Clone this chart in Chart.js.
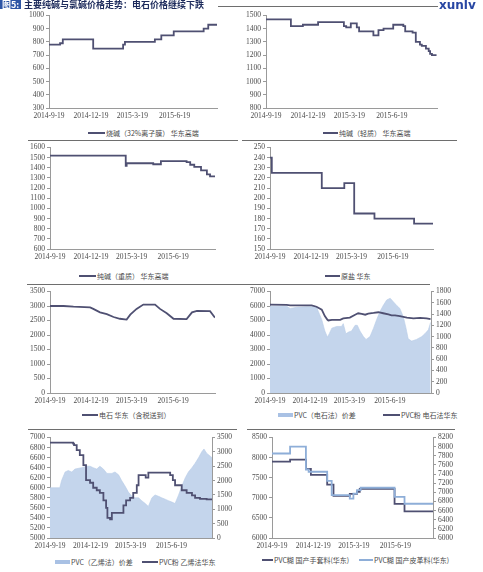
<!DOCTYPE html>
<html lang="zh">
<head>
<meta charset="UTF-8" />
<title>主要纯碱与氯碱价格走势</title>
<script src="https://cdn.jsdelivr.net/npm/chart.js"></script>
<style>
  body { margin: 0; background: #fff; }
  #page { position: relative; width: 483px; height: 572px; overflow: hidden; background: #fff; font-family: "Noto Sans CJK SC", sans-serif; }
  canvas { position: absolute; }
  .sep { position: absolute; height: 0; border-top: 1.5px solid #6e6e6e; }
  .sw { position: absolute; }
  .lt { position: absolute; font-size: 7px; line-height: 9px; color: #4a4a4a; white-space: nowrap; }
  .head { position: absolute; top: 0; white-space: nowrap; font-size: 9px; font-weight: bold; line-height: 9px; z-index: 5; }
</style>
</head>
<body>
<div id="page"></div>
<script>
  // x = 自 2014-9-19 起的天数
  var tickDays = [0, 91, 181, 273];
  var tickLabels = ["2014-9-19", "2014-12-19", "2015-3-19", "2015-6-19"];

  // 烧碱（32%离子膜） 华东高端
  var shaojianDays = [0, 24, 30, 96, 161, 165, 230, 244, 271, 336, 346, 365];
  var shaojianVals = [780, 790, 820, 750, 780, 800, 820, 850, 880, 900, 930, 930];

  // 纯碱（轻质） 华东高端
  var qingzhiDays = [0, 54, 80, 113, 169, 174, 184, 197, 202, 233, 244, 255, 276, 298, 302, 318, 325, 334, 338, 347, 353, 356, 360, 370];
  var qingzhiVals = [1470, 1420, 1430, 1450, 1420, 1410, 1440, 1410, 1380, 1350, 1390, 1400, 1430, 1420, 1380, 1370, 1300, 1280, 1270, 1250, 1230, 1210, 1200, 1200];

  // 纯碱（重质） 华东高端
  var zhongzhiDays = [0, 168, 170, 229, 246, 303, 311, 320, 335, 348, 355, 366];
  var zhongzhiVals = [1520, 1420, 1445, 1435, 1465, 1455, 1430, 1410, 1375, 1335, 1315, 1315];

  // 原盐 华东
  var yuanyanDays = [0, 4, 115, 165, 187, 232, 320, 363];
  var yuanyanVals = [240, 225, 210, 215, 185, 180, 175, 175];

  // 电石 华东（含税送到）
  var dianshiDays = [0, 30, 52, 89, 96, 111, 126, 141, 155, 170, 178, 192, 207, 233, 244, 259, 274, 303, 315, 326, 355, 366];
  var dianshiVals = [3000, 3000, 2975, 2950, 2900, 2780, 2720, 2620, 2560, 2530, 2700, 2900, 3050, 3050, 2900, 2750, 2560, 2550, 2780, 2830, 2820, 2600];

  // PVC（电石法）价差 / PVC粉 电石法华东
  var dsSpreadDays = [0, 38, 46, 61, 84, 106, 110, 118, 125, 131, 135, 141, 152, 163, 167, 173, 179, 186, 194, 199, 205, 213, 219, 228, 236, 243, 251, 258, 266, 274, 281, 289, 296, 304, 310, 315, 323, 334, 346, 353, 361, 366];
  var dsSpreadVals = [1540, 1540, 1500, 1520, 1530, 1530, 1450, 1300, 1100, 990, 1050, 1150, 1180, 1180, 1230, 1050, 1080, 1100, 1200, 1200, 1100, 1000, 950, 1000, 1150, 1300, 1450, 1550, 1650, 1680, 1620, 1550, 1500, 1350, 1150, 960, 920, 950, 1000, 1050, 1120, 1250];
  var dsPvcDays = [0, 38, 46, 84, 95, 106, 118, 125, 131, 133, 141, 160, 167, 182, 194, 201, 209, 217, 224, 236, 247, 258, 270, 277, 285, 296, 312, 327, 342, 357, 366];
  var dsPvcVals = [6100, 6080, 6050, 6050, 6040, 5950, 5750, 5300, 5050, 5000, 5050, 5050, 5150, 5200, 5400, 5500, 5450, 5400, 5480, 5520, 5570, 5500, 5420, 5350, 5350, 5300, 5200, 5150, 5180, 5150, 5100];

  // PVC（乙烯法）价差 / PVC粉 乙烯法华东
  var yxSpreadDays = [0, 22, 26, 34, 41, 49, 56, 71, 83, 90, 97, 105, 112, 120, 128, 139, 146, 154, 161, 169, 176, 184, 191, 199, 206, 214, 221, 229, 236, 244, 251, 259, 266, 274, 281, 289, 296, 304, 311, 319, 326, 334, 341, 346, 352, 360, 364];
  var yxSpreadVals = [1750, 1750, 2000, 2300, 2350, 2300, 2400, 2450, 2500, 2500, 2450, 2400, 2500, 2400, 2250, 2250, 2300, 2200, 2000, 1800, 1600, 1450, 1400, 1400, 1300, 1200, 1100, 1400, 1500, 1450, 1400, 1350, 1300, 1250, 1200, 1500, 1800, 2100, 2300, 2450, 2600, 2800, 3000, 3100, 2950, 2850, 2800];
  var yxPvcDays = [0, 52, 54, 60, 67, 75, 81, 90, 97, 105, 112, 120, 126, 129, 135, 139, 161, 165, 171, 180, 187, 195, 199, 210, 215, 221, 263, 270, 276, 281, 292, 296, 307, 319, 326, 337, 352, 364];
  var yxPvcVals = [6900, 6880, 6850, 6750, 6650, 6450, 6150, 6100, 6000, 5950, 5900, 5750, 5600, 5400, 5370, 5500, 5500, 5650, 5750, 5800, 5900, 6050, 6250, 6250, 6200, 6300, 6300, 6250, 6150, 6050, 6050, 5950, 5900, 5850, 5800, 5780, 5770, 5750];

  // PVC糊 国产手套料(华东) / 国产皮革料(华东)
  var shoutaoDays = [0, 40, 75, 86, 122, 136, 172, 188, 194, 271, 293, 356];
  var shoutaoVals = [7900, 7950, 7720, 7570, 7330, 7050, 7100, 7150, 7220, 6850, 6660, 6660];
  var pigeDays = [0, 40, 75, 81, 122, 132, 172, 180, 188, 196, 271, 293, 356];
  var pigeVals = [7850, 8000, 7500, 7450, 7250, 6940, 6860, 6970, 7050, 7100, 6900, 6750, 6750];

  var DARK = "#4f5072";
  var LIGHT = "#8eaed8";
  var AREA = "#c4d5ec";
  var AXIS = "#9a9a9a";
  var tickFont = { family: '"Liberation Serif", "DejaVu Serif", serif', size: 7.5 };

  var page = document.getElementById("page");

  function pts(days, vals) {
    return days.map(function (d, i) { return { x: d, y: vals[i] }; });
  }

  function lineSet(days, vals, color, axis, stepped, order) {
    return {
      data: pts(days, vals), borderColor: color, borderWidth: 1.8,
      pointRadius: 0, fill: false, stepped: stepped, tension: 0,
      yAxisID: axis, order: order
    };
  }

  function areaSet(days, vals, axis) {
    return {
      data: pts(days, vals), borderColor: "#b9cce8", borderWidth: 0.6,
      backgroundColor: AREA, pointRadius: 0, fill: "origin",
      yAxisID: axis, order: 5
    };
  }

  function yScale(pos, min, max, step, width) {
    return {
      type: "linear", position: pos, min: min, max: max,
      ticks: {
        stepSize: step, autoSkip: false, font: tickFont, color: "#4a4a4a", padding: 2,
        callback: function (v) { return String(v); }
      },
      grid: { display: true, drawOnChartArea: false, drawTicks: true, tickLength: 3, color: AXIS },
      border: { display: true, color: AXIS, width: 1 },
      afterFit: function (s) { s.width = width; }
    };
  }

  // p = [左, 右, 上, 下] 绘图区像素
  function panel(p, xMax, left, right, datasets) {
    var yW = 30, rW = right ? 26 : 0, padT = 6, padR = right ? 2 : 4, xH = 15;
    var c = document.createElement("canvas");
    var w = (p[1] - p[0]) + yW + rW + padR;
    var h = (p[3] - p[2]) + padT + xH;
    c.width = w; c.height = h;
    c.style.left = (p[0] - yW) + "px";
    c.style.top = (p[2] - padT) + "px";
    c.style.width = w + "px"; c.style.height = h + "px";
    page.appendChild(c);

    var scales = {
      x: {
        type: "linear", min: 0, max: xMax,
        afterBuildTicks: function (s) { s.ticks = tickDays.map(function (v) { return { value: v }; }); },
        ticks: {
          autoSkip: false, maxRotation: 0, font: tickFont, color: "#4a4a4a", padding: 4,
          callback: function (v, i) { return tickLabels[i]; }
        },
        grid: { display: false, drawTicks: false },
        border: { display: true, color: AXIS, width: 1 },
        afterFit: function (s) { s.height = xH; }
      },
      y: yScale("left", left[0], left[1], left[2], yW)
    };
    if (right) scales.y2 = yScale("right", right[0], right[1], right[2], rW);

    new Chart(c, {
      type: "line",
      data: { datasets: datasets },
      options: {
        responsive: false, animation: false, devicePixelRatio: 1,
        layout: { padding: { top: padT, right: padR, left: 0, bottom: 0 } },
        plugins: { legend: { display: false }, tooltip: { enabled: false } },
        scales: scales
      }
    });
  }

  function sep(x1, x2, y) {
    var d = document.createElement("div");
    d.className = "sep";
    d.style.left = x1 + "px"; d.style.top = y + "px"; d.style.width = (x2 - x1) + "px";
    page.appendChild(d);
  }

  function legend(x, y, w, color, text, bar) {
    var s = document.createElement("div");
    s.className = "sw";
    var hh = bar ? 3.5 : 2.2;
    s.style.left = x + "px"; s.style.top = (y - hh / 2) + "px";
    s.style.width = w + "px"; s.style.height = hh + "px"; s.style.background = color;
    page.appendChild(s);
    var t = document.createElement("div");
    t.className = "lt";
    t.style.left = (x + w + 1) + "px"; t.style.top = (y - 4.5) + "px";
    t.textContent = text;
    page.appendChild(t);
  }

  function head(x, text, css) {
    var d = document.createElement("div");
    d.className = "head";
    d.style.cssText = "left:" + x + "px;" + css;
    d.textContent = text;
    page.appendChild(d);
  }

  panel([49, 217, 15, 108], 365, [300, 1000, 100], null,
    [lineSet(shaojianDays, shaojianVals, DARK, "y", "before", 0)]);
  panel([266, 437, 15, 108], 371, [800, 1500, 100], null,
    [lineSet(qingzhiDays, qingzhiVals, DARK, "y", "before", 0)]);
  panel([50, 215, 147, 249], 366, [600, 1600, 100], null,
    [lineSet(zhongzhiDays, zhongzhiVals, DARK, "y", "before", 0)]);
  panel([270, 433, 147, 249], 362, [150, 250, 10], null,
    [lineSet(yuanyanDays, yuanyanVals, DARK, "y", "before", 0)]);
  panel([50, 215, 291, 393], 366, [0, 3500, 500], null,
    [lineSet(dianshiDays, dianshiVals, DARK, "y", false, 0)]);
  panel([270, 431, 291, 393], 367, [0, 7000, 1000], [0, 1800, 200],
    [lineSet(dsPvcDays, dsPvcVals, DARK, "y", false, 0), areaSet(dsSpreadDays, dsSpreadVals, "y2")]);
  panel([50, 212, 437, 538], 364, [5000, 7000, 200], [0, 3500, 500],
    [lineSet(yxPvcDays, yxPvcVals, DARK, "y", "before", 0), areaSet(yxSpreadDays, yxSpreadVals, "y2")]);
  panel([272, 433, 437, 538], 356, [6000, 8500, 500], [6000, 8200, 200],
    [lineSet(shoutaoDays, shoutaoVals, DARK, "y", "before", 1), lineSet(pigeDays, pigeVals, LIGHT, "y2", "before", 0)]);

  legend(88, 133, 17, DARK, "烧碱（32%离子膜） 华东高端");
  legend(323, 133, 15, DARK, "纯碱（轻质） 华东高端");
  legend(79, 276, 17, DARK, "纯碱（重质） 华东高端");
  legend(325, 276, 15, DARK, "原盐 华东");
  legend(82, 415, 16, DARK, "电石 华东（含税送到）");
  legend(278, 415, 15, "#a9c1e4", "PVC（电石法）价差", true);
  legend(383, 415, 17, DARK, "PVC粉 电石法华东");
  legend(55, 562, 15, "#a9c1e4", "PVC（乙烯法）价差", true);
  legend(142, 562, 16, DARK, "PVC粉 乙烯法华东");
  legend(262, 560, 11, DARK, "PVC糊 国产手套料(华东)");
  legend(359, 560, 14, LIGHT, "PVC糊 国产皮革料(华东)");

  sep(28, 238, 140); sep(242, 457, 140);
  sep(27, 240, 284); sep(240, 430, 284);
  sep(28, 237, 429); sep(247, 455, 429);
  sep(218, 438, 6);

  head(0, "图5:", "background:#2d55a5; color:#fff; padding:0 2px;");
  head(24, "主要纯碱与氯碱价格走势：电石价格继续下跌", "color:#1d2b5c;");
  head(439, "xunlv", "top:-1px; font-family:'DejaVu Sans',sans-serif; font-size:12px; line-height:12px; color:#2746a3;");
</script>
</body>
</html>
